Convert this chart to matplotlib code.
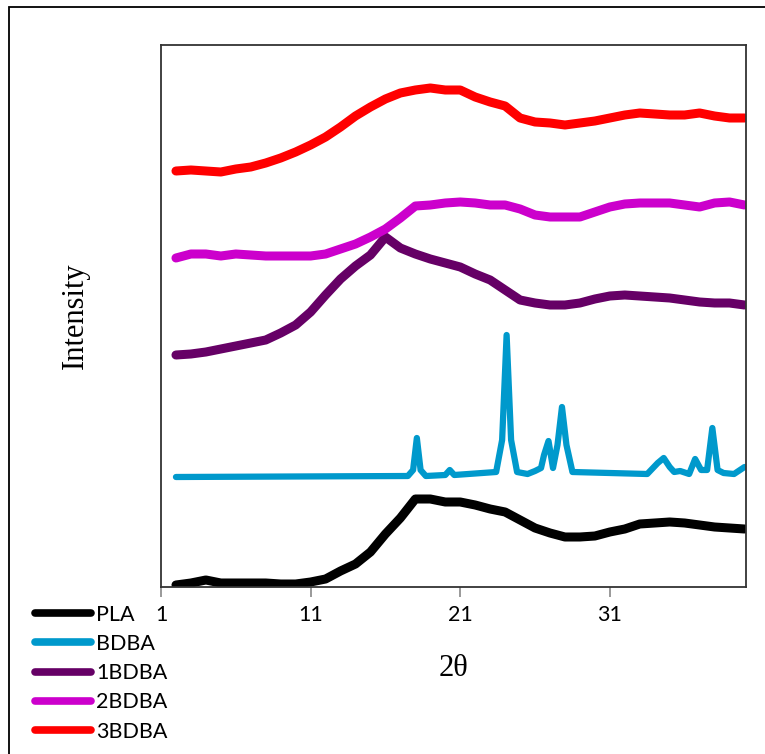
import matplotlib
matplotlib.use("Agg")
import matplotlib.pyplot as plt
from matplotlib.patches import Rectangle

# 2-theta grid used for the amorphous (noisy) patterns
two_theta = list(range(2, 41))

# intensities (arbitrary units, offset stacked)
pla = [2, 4, 7, 4, 4, 4, 4, 3, 3, 5, 8, 16, 23, 35, 53, 69, 88, 88, 85, 85,
       82, 78, 75, 67, 59, 54, 50, 50, 51, 55, 58, 63, 64, 65, 64, 62, 60, 59, 58]
bdba_1 = [232, 233, 235, 238, 241, 244, 247, 254, 262, 275, 292, 308, 321, 332, 350, 339,
          333, 328, 324, 320, 313, 307, 297, 287, 284, 282, 282, 284, 288, 291, 292, 291,
          290, 289, 287, 285, 284, 284, 282]
bdba_2 = [329, 333, 333, 331, 333, 332, 331, 331, 331, 331, 333, 338, 343, 350, 358, 369,
          381, 382, 384, 385, 384, 382, 382, 378, 372, 370, 370, 370, 375, 380, 383, 384,
          384, 384, 382, 380, 384, 385, 382]
bdba_3 = [416, 417, 416, 415, 418, 420, 424, 429, 435, 442, 450, 460, 471, 480, 488, 494,
          497, 499, 497, 497, 490, 485, 481, 469, 465, 464, 462, 464, 466, 469, 472, 474,
          473, 472, 472, 474, 471, 469, 469]

# crystalline BDBA pattern (sharp peaks need their own x points)
bdba_x = [2, 17.5, 17.85, 18.1, 18.35, 18.7, 20.0, 20.3, 20.6, 23.4, 23.8, 24.1, 24.4,
          24.8, 25.5, 26.0, 26.4, 26.6, 26.9, 27.2, 27.5, 27.8, 28.1, 28.5, 33.5, 34.2,
          34.6, 35.0, 35.3, 35.7, 36.3, 36.7, 37.1, 37.5, 37.85, 38.2, 38.6, 39.3, 40]
bdba = [110, 111, 117, 149, 117, 111, 112, 117, 112, 115, 147, 252, 147, 115, 113, 116,
        119, 132, 146, 119, 142, 180, 142, 115, 113, 124, 129, 120, 115, 116, 113, 128,
        117, 117, 159, 117, 114, 113, 120]

xticks = [1, 11, 21, 31]

plt.rcParams["font.family"] = "Lato"
plt.rcParams["font.size"] = 15.5

fig = plt.figure(figsize=(7.65, 7.54), dpi=100)
ax = fig.add_axes([161/765, 167/754, 585/765, 542/754])

style = dict(solid_joinstyle="round", solid_capstyle="round")
ax.plot(two_theta, pla, color="black", lw=6.5, label="PLA", **style)
ax.plot(bdba_x, bdba, color="#0099CC", lw=4.5, label="BDBA", **style)
ax.plot(two_theta, bdba_1, color="#660066", lw=6.5, label="1BDBA", **style)
ax.plot(two_theta, bdba_2, color="#CC00CC", lw=6.5, label="2BDBA", **style)
ax.plot(two_theta, bdba_3, color="#FF0000", lw=6.5, label="3BDBA", **style)

ax.set_xlim(1, 40.1)
ax.set_ylim(0, 542)
ax.set_xticks(xticks)
ax.set_xticklabels([str(t) for t in xticks])
ax.set_yticks([])
ax.tick_params(axis="x", direction="out", length=7, width=1.2, color="#888888", pad=6)
for s in ax.spines.values():
    s.set_color("#333333")
    s.set_linewidth(1.3)

ax.set_xlabel("2θ", family="Liberation Serif", fontsize=22, labelpad=21)
ax.set_ylabel("Intensity", family="Liberation Serif", fontsize=22, labelpad=51)

leg = fig.legend(loc="upper left", bbox_to_anchor=(35/765, 0.198), frameon=False,
                 borderpad=0, borderaxespad=0, handlelength=2.6, handletextpad=0.25,
                 labelspacing=0.43)
for h in leg.legend_handles:
    h.set_linewidth(5.5)

# outer chart-area frame
fig.patches.append(Rectangle((9/765, -0.1), 1.2, 1.1 - 7/754, transform=fig.transFigure,
                             fill=False, edgecolor="black", lw=1.3))

fig.savefig("out.png", dpi=100)
